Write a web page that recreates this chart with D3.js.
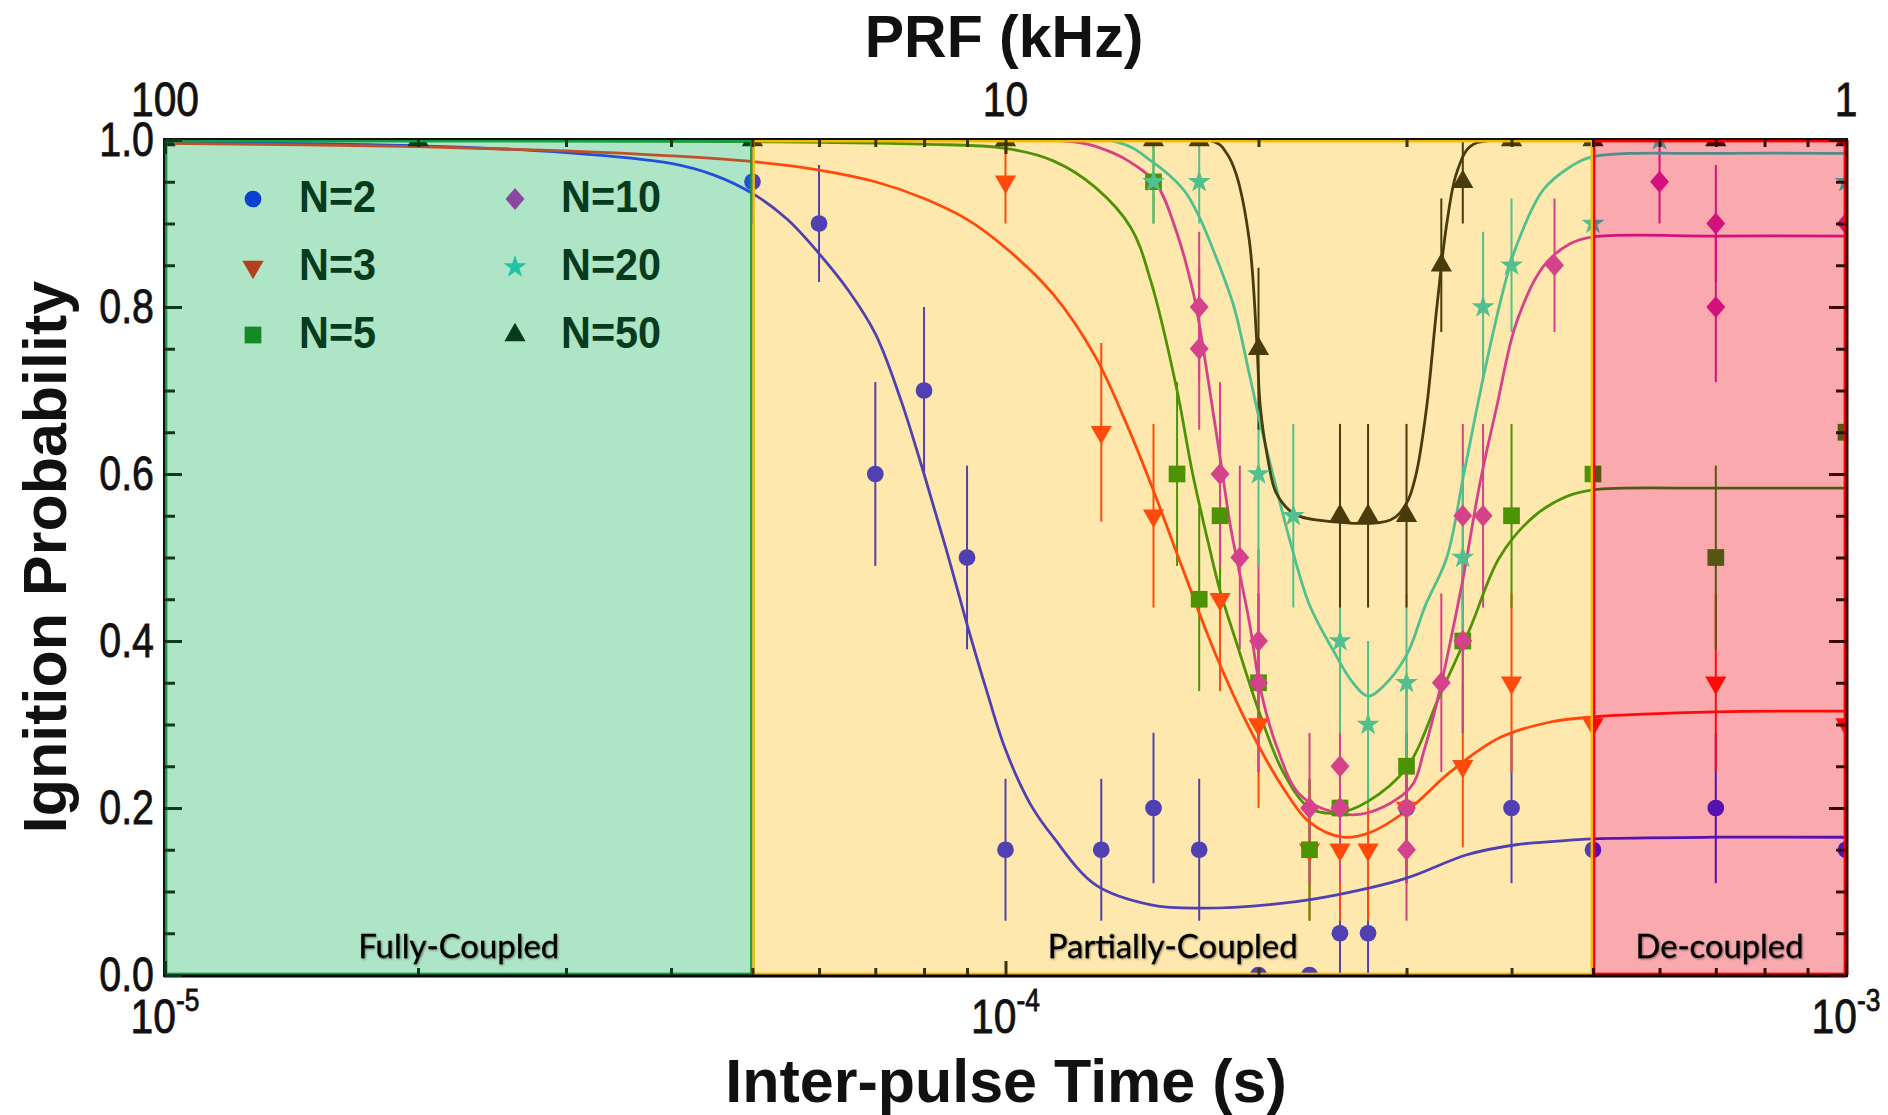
<!DOCTYPE html>
<html>
<head>
<meta charset="utf-8">
<script src="https://cdn.jsdelivr.net/npm/d3@7"></script>
<style>
  html, body { margin: 0; padding: 0; background: #fff; }
  svg { display: block; }
  text { font-family: "Liberation Sans", Arial, sans-serif; }
</style>
</head>
<body>
<svg id="chart" width="1888" height="1115"></svg>
<script>
// ---- data: [time (s), probability, error] ----
const seriesNames = ["N=2", "N=3", "N=5", "N=10", "N=20", "N=50"];

const n2Points = [
  [5e-5, 0.95, 0.05], [6e-5, 0.90, 0.07], [7e-5, 0.60, 0.11], [8e-5, 0.70, 0.10],
  [9e-5, 0.50, 0.11], [1e-4, 0.15, 0.085], [1.3e-4, 0.15, 0.085], [1.5e-4, 0.20, 0.09],
  [1.7e-4, 0.15, 0.085], [2e-4, 0.0, 0], [2.3e-4, 0.0, 0], [2.5e-4, 0.05, 0.05],
  [2.7e-4, 0.05, 0.05], [3e-4, 0.20, 0.09], [4e-4, 0.20, 0.09], [5e-4, 0.15, 0.085],
  [7e-4, 0.20, 0.09], [1e-3, 0.15, 0.085]
];
const n3Points = [
  [1e-4, 0.95, 0.05], [1.3e-4, 0.65, 0.107], [1.5e-4, 0.55, 0.11], [1.8e-4, 0.45, 0.11],
  [2e-4, 0.30, 0.10], [2.3e-4, 0.15, 0.085], [2.5e-4, 0.15, 0.085], [2.7e-4, 0.15, 0.085],
  [3e-4, 0.20, 0.09], [3.5e-4, 0.25, 0.097], [4e-4, 0.35, 0.107], [5e-4, 0.30, 0.10],
  [7e-4, 0.35, 0.107], [1e-3, 0.30, 0.10]
];
const n5Points = [
  [1.5e-4, 0.95, 0.05], [1.6e-4, 0.60, 0.11], [1.7e-4, 0.45, 0.11], [1.8e-4, 0.55, 0.11],
  [2e-4, 0.35, 0.107], [2.3e-4, 0.15, 0.085], [2.5e-4, 0.20, 0.09], [3e-4, 0.25, 0.097],
  [3.5e-4, 0.40, 0.11], [4e-4, 0.55, 0.11], [5e-4, 0.60, 0.11], [7e-4, 0.50, 0.11],
  [1e-3, 0.65, 0.107]
];
const n10Points = [
  [1.7e-4, 0.80, 0.09], [1.7e-4, 0.75, 0.097], [1.8e-4, 0.60, 0.11], [1.9e-4, 0.50, 0.11],
  [2e-4, 0.40, 0.11], [2e-4, 0.35, 0.107], [2.3e-4, 0.20, 0.09], [2.5e-4, 0.25, 0.097],
  [2.5e-4, 0.20, 0.09], [3e-4, 0.20, 0.09], [3e-4, 0.15, 0.085], [3.3e-4, 0.35, 0.107],
  [3.5e-4, 0.40, 0.11], [3.5e-4, 0.55, 0.11], [3.7e-4, 0.55, 0.11], [4.5e-4, 0.85, 0.08],
  [6e-4, 0.95, 0.05], [7e-4, 0.90, 0.07], [7e-4, 0.80, 0.09], [1e-3, 0.90, 0.07]
];
const n20Points = [
  [1.5e-4, 0.95, 0.05], [1.7e-4, 0.95, 0.05], [2e-4, 0.60, 0.11], [2.2e-4, 0.55, 0.11],
  [2.5e-4, 0.40, 0.11], [2.7e-4, 0.30, 0.10], [3e-4, 0.35, 0.107], [3.5e-4, 0.50, 0.11],
  [3.7e-4, 0.80, 0.09], [4e-4, 0.85, 0.08], [5e-4, 0.90, 0.07], [6e-4, 1.0, 0],
  [1e-3, 0.95, 0.05]
];
const n50Points = [
  [1e-5, 1.0, 0], [2e-5, 1.0, 0], [5e-5, 1.0, 0], [1e-4, 1.0, 0], [1.5e-4, 1.0, 0],
  [1.7e-4, 1.0, 0], [2e-4, 0.75, 0.097], [2.5e-4, 0.55, 0.11], [2.7e-4, 0.55, 0.11],
  [3e-4, 0.55, 0.11], [3.3e-4, 0.85, 0.08], [3.5e-4, 0.95, 0.05], [4e-4, 1.0, 0],
  [5e-4, 1.0, 0], [7e-4, 1.0, 0], [1e-3, 1.0, 0]
];

// fitted curves: [time (s), probability]
const n2Curve = [
  [1e-5, 0.997], [2e-5, 0.993], [3e-5, 0.985], [4e-5, 0.972], [4.5e-5, 0.958], [5e-5, 0.936],
  [5.5e-5, 0.905], [6e-5, 0.864], [6.5e-5, 0.82], [7e-5, 0.768], [7.5e-5, 0.69], [8e-5, 0.60],
  [8.5e-5, 0.51], [9e-5, 0.42], [9.5e-5, 0.34], [1e-4, 0.27], [1.07e-4, 0.205], [1.14e-4, 0.165],
  [1.28e-4, 0.108], [1.49e-4, 0.084], [1.7e-4, 0.080], [2.14e-4, 0.086], [2.48e-4, 0.096],
  [3e-4, 0.116], [3.54e-4, 0.144], [4.05e-4, 0.156], [4.5e-4, 0.16], [5e-4, 0.163], [7e-4, 0.165],
  [1e-3, 0.165]
];
const n3Curve = [
  [1e-5, 0.996], [2e-5, 0.992], [3e-5, 0.987], [4e-5, 0.981], [5e-5, 0.974], [6e-5, 0.964],
  [7e-5, 0.95], [8e-5, 0.93], [9e-5, 0.905], [1e-4, 0.871], [1.14e-4, 0.815], [1.28e-4, 0.74],
  [1.4e-4, 0.655], [1.5e-4, 0.58], [1.62e-4, 0.49], [1.78e-4, 0.383], [1.95e-4, 0.296],
  [2.14e-4, 0.224], [2.3e-4, 0.183], [2.52e-4, 0.165], [2.72e-4, 0.171], [3.03e-4, 0.20],
  [3.38e-4, 0.243], [3.87e-4, 0.284], [4.45e-4, 0.303], [5e-4, 0.309], [7e-4, 0.315],
  [1e-3, 0.316]
];
const n5Curve = [
  [1e-5, 1.0], [5e-5, 0.998], [8e-5, 0.995], [1e-4, 0.99], [1.14e-4, 0.975], [1.28e-4, 0.943],
  [1.41e-4, 0.895], [1.49e-4, 0.83], [1.6e-4, 0.70], [1.67e-4, 0.60], [1.75e-4, 0.51],
  [1.8e-4, 0.46], [1.88e-4, 0.40], [2.01e-4, 0.311], [2.14e-4, 0.243], [2.3e-4, 0.20],
  [2.48e-4, 0.194], [2.69e-4, 0.207], [3e-4, 0.248], [3.29e-4, 0.336], [3.57e-4, 0.415],
  [3.87e-4, 0.50], [4.25e-4, 0.549], [4.65e-4, 0.573], [5e-4, 0.581], [7e-4, 0.583], [1e-3, 0.583]
];
const n10Curve = [
  [1e-5, 1.0], [1.2e-4, 0.998], [1.3e-4, 0.99], [1.4e-4, 0.975], [1.51e-4, 0.948], [1.6e-4, 0.888],
  [1.67e-4, 0.82], [1.7e-4, 0.78], [1.75e-4, 0.70], [1.8e-4, 0.62], [1.85e-4, 0.54],
  [1.88e-4, 0.503], [1.95e-4, 0.423], [2.01e-4, 0.343], [2.1e-4, 0.275], [2.24e-4, 0.216],
  [2.48e-4, 0.194], [2.69e-4, 0.194], [3.03e-4, 0.224], [3.15e-4, 0.27], [3.29e-4, 0.343],
  [3.4e-4, 0.41], [3.51e-4, 0.48], [3.67e-4, 0.59], [3.84e-4, 0.68], [4.05e-4, 0.78],
  [4.36e-4, 0.848], [4.7e-4, 0.876], [5e-4, 0.884], [7e-4, 0.885], [1e-3, 0.885]
];
const n20Curve = [
  [1e-5, 1.0], [1.35e-4, 0.998], [1.49e-4, 0.975], [1.63e-4, 0.94], [1.7e-4, 0.908],
  [1.78e-4, 0.86], [1.87e-4, 0.80], [1.95e-4, 0.72], [2.01e-4, 0.66], [2.08e-4, 0.60],
  [2.18e-4, 0.52], [2.3e-4, 0.443], [2.45e-4, 0.39], [2.59e-4, 0.35], [2.7e-4, 0.334],
  [2.81e-4, 0.345], [3e-4, 0.383], [3.16e-4, 0.443], [3.35e-4, 0.50], [3.51e-4, 0.60],
  [3.71e-4, 0.72], [3.91e-4, 0.82], [4.05e-4, 0.872], [4.36e-4, 0.94], [4.7e-4, 0.968],
  [5e-4, 0.98], [7e-4, 0.984], [1e-3, 0.984]
];
const n50Curve = [
  [1e-5, 1.0], [1.77e-4, 0.998], [1.83e-4, 0.985], [1.88e-4, 0.96], [1.95e-4, 0.88],
  [1.99e-4, 0.76], [2.01e-4, 0.68], [2.05e-4, 0.62], [2.1e-4, 0.577], [2.2e-4, 0.553],
  [2.34e-4, 0.545], [2.87e-4, 0.545], [3e-4, 0.565], [3.08e-4, 0.60], [3.17e-4, 0.68],
  [3.26e-4, 0.80], [3.35e-4, 0.90], [3.44e-4, 0.96], [3.57e-4, 0.992], [3.8e-4, 1.0], [1e-3, 1.0]
];

// coupling regimes (time bounds in s)
const regionNames = ["Fully-Coupled", "Partially-Coupled", "De-coupled"];
const regionBounds = [[1e-5, 5e-5], [5e-5, 5e-4], [5e-4, 1e-3]];

// ticks
const timeTicksMajor = [1e-5, 1e-4, 1e-3];
const timeTickExponents = ["-5", "-4", "-3"];
const timeTicksMinor = [2e-5, 3e-5, 4e-5, 5e-5, 6e-5, 7e-5, 8e-5, 9e-5,
                        2e-4, 3e-4, 4e-4, 5e-4, 6e-4, 7e-4, 8e-4, 9e-4];
const prfTickLabels = ["100", "10", "1"];
const probTicksMajor = [0, 0.2, 0.4, 0.6, 0.8, 1.0];
const probTicksMinor = [0.05, 0.1, 0.15, 0.25, 0.3, 0.35, 0.45, 0.5, 0.55,
                        0.65, 0.7, 0.75, 0.85, 0.9, 0.95];

// ---- styles ----
const regionFill = ["#aee5c6", "#fee8ad", "#faaaae"];
const regionStroke = ["#13a043", "#f5bb00", "#ff0000"];
const tickColor = ["#0b3a1e", "#3b3206", "#3c0808"];
// colour of each series inside [green, yellow, red] region
const seriesColors = [
  ["#2350d8", "#5040b2", "#5512b0"],
  ["#c0502c", "#ff4a0c", "#ff0a0a"],
  ["#2f8a2a", "#4e9206", "#525810"],
  ["#9a4aa8", "#d5428c", "#d4107c"],
  ["#30b890", "#52c08e", "#4f8c8c"],
  ["#0a3a1c", "#4a3b0c", "#3c0a0a"]
];
const legendColors = ["#0b40d0", "#b5401e", "#128a28", "#8b48a0", "#22c2a6", "#0a3a1c"];

const diamond = {
  draw(ctx, size) {
    const h = Math.sqrt(size / 1.7), w = h * 0.85;
    ctx.moveTo(0, -h); ctx.lineTo(w, 0); ctx.lineTo(0, h); ctx.lineTo(-w, 0); ctx.closePath();
  }
};
const symbols = [
  { type: d3.symbolCircle, size: 220, flip: false },
  { type: d3.symbolTriangle, size: 195, flip: true },
  { type: d3.symbolSquare, size: 280, flip: false },
  { type: diamond, size: 210, flip: false },
  { type: d3.symbolStar, size: 165, flip: false },
  { type: d3.symbolTriangle, size: 195, flip: false }
];

const pointSets = [n2Points, n3Points, n5Points, n10Points, n20Points, n50Points];
const curveSets = [n2Curve, n3Curve, n5Curve, n10Curve, n20Curve, n50Curve];
const series = seriesNames.map((name, i) => ({
  name, pts: pointSets[i], curve: curveSets[i], sym: symbols[i], colors: seriesColors[i]
}));

// ---- layout ----
const svg = d3.select("#chart");
const margin = { left: 165, top: 140 };
const W = 1681, H = 835;

const x = d3.scaleLog().domain([1e-5, 1e-3]).range([0, W]);
const y = d3.scaleLinear().domain([0, 1]).range([H, 0]);

const defs = svg.append("defs");
defs.append("clipPath").attr("id", "clip-plot")
  .append("rect").attr("width", W).attr("height", H);
regionBounds.forEach((b, i) => {
  defs.append("clipPath").attr("id", "clip-region-" + i)
    .append("rect").attr("x", x(b[0])).attr("y", 0)
    .attr("width", x(b[1]) - x(b[0])).attr("height", H);
});
const shadow = defs.append("filter").attr("id", "txtShadow")
  .attr("x", "-10%").attr("y", "-30%").attr("width", "120%").attr("height", "160%");
shadow.append("feDropShadow").attr("dx", 1).attr("dy", 1).attr("stdDeviation", 1)
  .attr("flood-color", "#000").attr("flood-opacity", 0.45);

const plot = svg.append("g").attr("transform", `translate(${margin.left},${margin.top})`);

// region backgrounds
plot.selectAll("rect.region").data(regionBounds).join("rect")
  .attr("class", "region")
  .attr("x", d => x(d[0])).attr("y", 0)
  .attr("width", d => x(d[1]) - x(d[0])).attr("height", H)
  .attr("fill", (d, i) => regionFill[i]);

// data, drawn once per region so colours follow the shading
const line = d3.line().x(d => x(d[0])).y(d => y(d[1])).curve(d3.curveCatmullRom.alpha(0.5));
const symbolPath = s => d3.symbol().type(s.sym.type).size(s.sym.size)();

const dataLayer = plot.append("g").attr("clip-path", "url(#clip-plot)");
regionBounds.forEach((b, ri) => {
  const g = dataLayer.append("g").attr("clip-path", `url(#clip-region-${ri})`);
  series.forEach(s => {
    g.selectAll(null).data(s.pts.filter(d => d[2] > 0)).join("line")
      .attr("x1", d => x(d[0])).attr("x2", d => x(d[0]))
      .attr("y1", d => y(d[1] + d[2])).attr("y2", d => y(d[1] - d[2]))
      .attr("stroke", s.colors[ri]).attr("stroke-width", 2);
  });
  series.forEach(s => {
    g.append("path").datum(s.curve).attr("d", line)
      .attr("fill", "none").attr("stroke", s.colors[ri]).attr("stroke-width", 2.8);
  });
  series.forEach(s => {
    g.selectAll(null).data(s.pts).join("path")
      .attr("transform", d => `translate(${x(d[0])},${y(d[1])})` + (s.sym.flip ? " rotate(180)" : ""))
      .attr("d", symbolPath(s))
      .attr("fill", s.colors[ri]);
  });
});

// region borders + frame
regionBounds.forEach((b, i) => {
  plot.append("rect")
    .attr("x", x(b[0]) + 1.2).attr("y", 1.2)
    .attr("width", x(b[1]) - x(b[0]) - 2.4).attr("height", H - 2.4)
    .attr("fill", "none").attr("stroke", regionStroke[i]).attr("stroke-width", 2.4);
});
plot.append("rect").attr("x", -1).attr("y", -1).attr("width", W + 2).attr("height", H + 2)
  .attr("fill", "none").attr("stroke", "#111").attr("stroke-width", 2);
plot.append("line").attr("x1", -1).attr("x2", W + 1).attr("y1", H + 1).attr("y2", H + 1)
  .attr("stroke", "#000").attr("stroke-width", 3);
plot.append("line").attr("x1", W + 1).attr("x2", W + 1).attr("y1", 0).attr("y2", H)
  .attr("stroke", "#4a0606").attr("stroke-width", 3);

// region labels
regionBounds.forEach((b, i) => {
  const widths = [201, 250, 168];
  plot.append("text")
    .attr("x", (x(b[0]) + x(b[1])) / 2).attr("y", H - 17)
    .attr("text-anchor", "middle")
    .attr("textLength", widths[i]).attr("lengthAdjust", "spacingAndGlyphs")
    .style("font-family", "Lato, 'Open Sans', sans-serif")
    .style("font-size", "32px").attr("fill", "#000")
    .attr("stroke", "#000").attr("stroke-width", 0.3)
    .attr("filter", "url(#txtShadow)")
    .text(regionNames[i]);
});

// ticks (inward)
function regionOf(t) {
  const i = regionBounds.findIndex(b => t >= b[0] && t < b[1]);
  return i === -1 ? 2 : i;
}
function styleTicks(g, colorFn) {
  g.select(".domain").remove();
  g.selectAll(".tick line").attr("stroke-width", 3).attr("stroke", colorFn);
  g.selectAll(".tick text").remove();
}
[[timeTicksMinor, 7], [timeTicksMajor, 14]].forEach(([vals, len]) => {
  plot.append("g").attr("transform", `translate(0,${H})`)
    .call(d3.axisBottom(x).tickValues(vals).tickSize(-len).tickFormat(""))
    .call(g => styleTicks(g, d => tickColor[regionOf(d)]));
  plot.append("g")
    .call(d3.axisTop(x).tickValues(vals).tickSize(-len).tickFormat(""))
    .call(g => styleTicks(g, d => tickColor[regionOf(d)]));
});
[[probTicksMinor, 10], [probTicksMajor, 17]].forEach(([vals, len]) => {
  plot.append("g")
    .call(d3.axisLeft(y).tickValues(vals).tickSize(-len).tickFormat(""))
    .call(g => styleTicks(g, () => tickColor[0]));
  plot.append("g").attr("transform", `translate(${W},0)`)
    .call(d3.axisRight(y).tickValues(vals).tickSize(-len).tickFormat(""))
    .call(g => styleTicks(g, () => tickColor[2]));
});

// narrow text helper (Arial Narrow look)
function narrow(parent, px, py, sx) {
  return parent.append("g").attr("transform", `translate(${px},${py}) scale(${sx},1)`);
}

// y tick labels
probTicksMajor.forEach(v => {
  narrow(plot, -11, y(v), 0.82).append("text")
    .attr("text-anchor", "end").attr("dy", "0.33em")
    .style("font-size", "48px").attr("fill", "#111")
    .attr("stroke", "#111").attr("stroke-width", 0.8)
    .text(v.toFixed(1));
});

// bottom tick labels 10^n
timeTicksMajor.forEach((t, i) => {
  const tx = narrow(plot, x(t), H + 58, 0.85).append("text")
    .attr("text-anchor", "middle").attr("fill", "#111")
    .attr("stroke", "#111").attr("stroke-width", 0.8);
  tx.append("tspan").style("font-size", "48px").text("10");
  tx.append("tspan").style("font-size", "31px").attr("dy", -22).text(timeTickExponents[i]);
});

// top tick labels (PRF in kHz)
timeTicksMajor.forEach((t, i) => {
  narrow(plot, x(t), -24, 0.85).append("text")
    .attr("text-anchor", "middle").attr("fill", "#111")
    .attr("stroke", "#111").attr("stroke-width", 0.8)
    .style("font-size", "48px").text(prfTickLabels[i]);
});

// axis titles
svg.append("text").attr("x", 1004).attr("y", 57).attr("text-anchor", "middle")
  .style("font-size", "59px").style("font-weight", "bold").attr("fill", "#111")
  .text("PRF (kHz)");
svg.append("text").attr("x", 1006).attr("y", 1102).attr("text-anchor", "middle")
  .style("font-size", "61px").style("font-weight", "bold").attr("fill", "#111")
  .text("Inter-pulse Time (s)");
svg.append("text").attr("transform", "translate(66,557) rotate(-90)")
  .attr("text-anchor", "middle")
  .style("font-size", "61px").style("font-weight", "bold").attr("fill", "#111")
  .text("Ignition Probability");

// legend
const legend = plot.append("g");
series.forEach((s, i) => {
  const col = Math.floor(i / 3), row = i % 3;
  const mx = [88, 350][col], my = [59, 127, 195][row];
  legend.append("path")
    .attr("transform", `translate(${mx},${my})` + (s.sym.flip ? " rotate(180)" : ""))
    .attr("d", symbolPath(s)).attr("fill", legendColors[i]);
  narrow(legend, mx + 46, my + 13, 0.92).append("text")
    .style("font-size", "45px").style("font-weight", "bold").attr("fill", "#073b1d")
    .text(s.name);
});
</script>
</body>
</html>
